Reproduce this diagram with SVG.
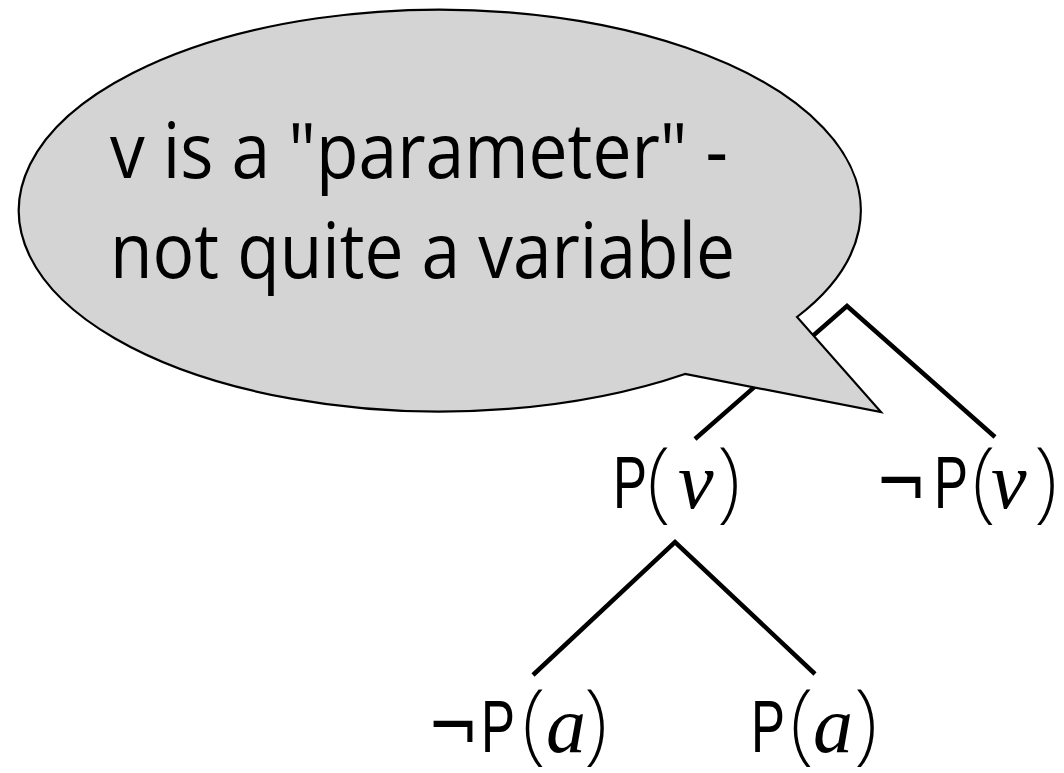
<svg xmlns="http://www.w3.org/2000/svg" width="1064" height="773" viewBox="0 0 1064 773">
<style>
.edge{fill:none;stroke:#000;stroke-width:4.5;stroke-linejoin:miter;stroke-linecap:butt}
.bubble{fill:#d4d4d4;stroke:#000;stroke-width:2.2;stroke-linejoin:miter}
.note{font-family:"Open Sans","Noto Sans","Liberation Sans",sans-serif;font-size:76px;fill:#000}
.lbl{font-family:"Liberation Sans",Arial,sans-serif;font-size:74px;fill:#000}
.neg{font-family:"DejaVu Sans","Liberation Sans",sans-serif;font-size:74px}
.par{font-family:"Noto Sans","Liberation Serif",serif;font-weight:200;font-size:89px}
.it{font-family:"Liberation Serif","Times New Roman",serif;font-style:italic;font-size:80px}
</style>
<rect width="1064" height="773" fill="#fff"/>
<g id="connectors">
<polyline class="edge" points="695,439 847,306 995,437"/>
<polyline class="edge" points="533,675 675,542 815,674"/>
</g>
<g id="callout">
<path class="bubble" d="M685,374 A421,201 0 1 1 797,317 L881,412 Z"/>
<text class="note" x="110" y="178" textLength="618" lengthAdjust="spacingAndGlyphs">v is a "parameter" -</text>
<text class="note" x="110" y="278" textLength="625" lengthAdjust="spacingAndGlyphs">not quite a variable</text>
</g>
<g id="node-Pv">
<text class="lbl" y="508"><tspan x="613" textLength="34" lengthAdjust="spacingAndGlyphs">P</tspan><tspan class="par" x="647" y="511">(</tspan><tspan class="it" x="678" y="508">v</tspan><tspan class="par" x="717" y="511">)</tspan></text>
</g>
<g id="node-notPv">
<text class="lbl" y="508"><tspan class="neg" x="875" textLength="52" lengthAdjust="spacingAndGlyphs">¬</tspan><tspan x="934" y="508" textLength="34" lengthAdjust="spacingAndGlyphs">P</tspan><tspan class="par" x="972" y="511">(</tspan><tspan class="it" x="991" y="508">v</tspan><tspan class="par" x="1034" y="511">)</tspan></text>
</g>
<g id="node-notPa">
<text class="lbl" y="752"><tspan class="neg" x="427" textLength="52" lengthAdjust="spacingAndGlyphs">¬</tspan><tspan x="481" y="752" textLength="34" lengthAdjust="spacingAndGlyphs">P</tspan><tspan class="par" x="522" y="753">(</tspan><tspan class="it" x="546" y="752">a</tspan><tspan class="par" x="584" y="753">)</tspan></text>
</g>
<g id="node-Pa">
<text class="lbl" y="752"><tspan x="751" textLength="34" lengthAdjust="spacingAndGlyphs">P</tspan><tspan class="par" x="790" y="753">(</tspan><tspan class="it" x="813" y="752">a</tspan><tspan class="par" x="854" y="753">)</tspan></text>
</g>
</svg>
